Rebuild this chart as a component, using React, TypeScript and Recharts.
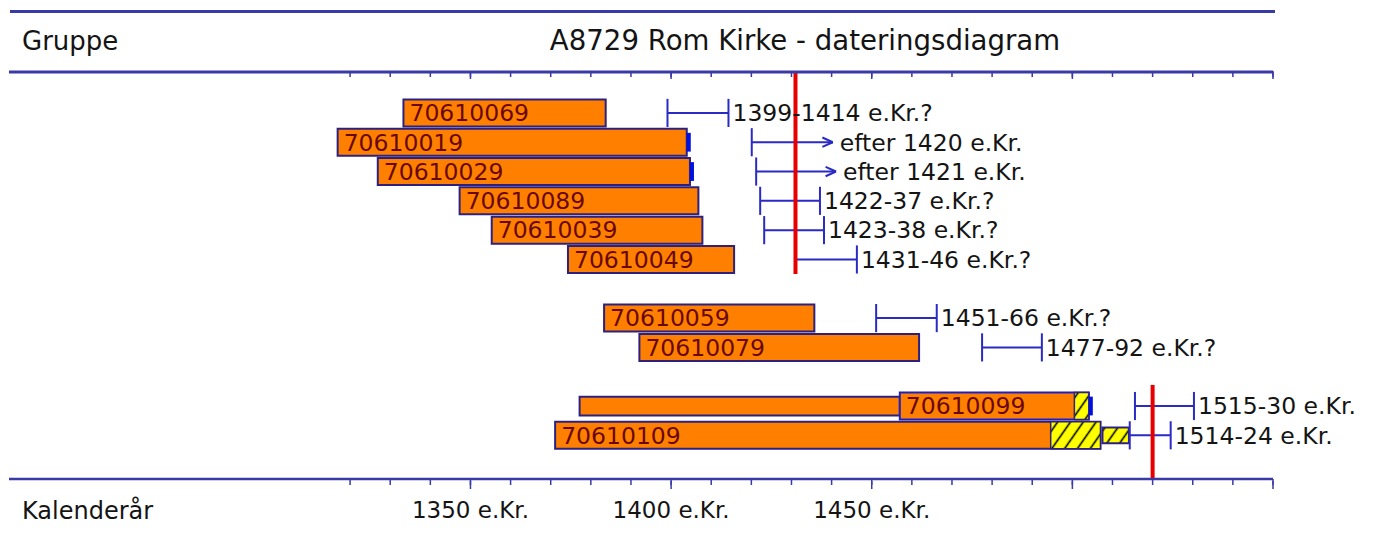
import React from 'react';
import { ComposedChart, XAxis, YAxis, ReferenceArea, ReferenceLine, ReferenceDot } from 'recharts';

// ---- Samples (tree-ring series) ----
const SAMPLE_IDS = ['70610069', '70610019', '70610029', '70610089', '70610039', '70610049', '70610059', '70610079', '70610099', '70610109'];
const SAMPLE_ROWS = [0, 1, 2, 3, 4, 5, 7, 8, 10, 11];
const SERIES_START = [1333.3, 1316.9, 1326.9, 1347.3, 1355.3, 1374.3, 1383.3, 1392.1, 1377.2, 1371.1];
const LABEL_BOX_START = [1333.3, 1316.9, 1326.9, 1347.3, 1355.3, 1374.3, 1383.3, 1392.1, 1457.0, 1371.1];
const HEARTWOOD_END = [1383.7, 1403.9, 1404.7, 1406.8, 1407.8, 1415.7, 1435.7, 1461.8, 1500.5, 1494.6];
const SAPWOOD_END: (number | null)[] = [null, null, null, null, null, null, null, null, 1504.1, 1507.0];
const WANEY_EDGE = [false, true, true, false, false, false, false, false, true, false];

// extra (estimated) sapwood block
const EXTRA_SAP_ROW = [11];
const EXTRA_SAP_FROM = [1507.5];
const EXTRA_SAP_TO = [1514.1];

// ---- Felling date intervals ----
const DATE_FROM = [1399.1, 1420.1, 1421.2, 1422.2, 1423.2, 1430.9, 1451.1, 1477.5, 1515.6, 1514.3];
const DATE_TO = [1414.3, 1440.3, 1441.1, 1437.1, 1438.1, 1446.3, 1466.2, 1492.4, 1530.3, 1524.5];
const DATE_OPEN = [false, true, true, false, false, false, false, false, false, false];
const DATE_TEXT = ['1399-1414 e.Kr.?', 'efter 1420 e.Kr.', 'efter 1421 e.Kr.', '1422-37 e.Kr.?', '1423-38 e.Kr.?', '1431-46 e.Kr.?', '1451-66 e.Kr.?', '1477-92 e.Kr.?', '1515-30 e.Kr.', '1514-24 e.Kr.'];

// ---- Groups ----
const GROUP_NAMES = ['Apsis + Kor', 'Kor', 'Altertavle'];
const GROUP_ROWS = [-0.2, 7.1, 10.05];

// ---- Red dating lines ----
const RED_YEAR = [1431, 1520];
const RED_FROM_ROW = [-1.43, 9.28];
const RED_TO_ROW = [5.5, 12.49];

// ---- Axis ----
const MINOR_TICKS = [1320, 1330, 1340, 1350, 1360, 1370, 1380, 1390, 1400, 1410, 1420, 1430, 1440, 1450, 1460, 1470, 1480, 1490, 1500, 1510, 1520, 1530, 1540, 1550];
const MAJOR_TICKS = [1350, 1400, 1450, 1500, 1550];
const LABEL_TICKS = [1350, 1400, 1450];
const X_DOMAIN: [number, number] = [1235, 1550];
const Y_DOMAIN: [number, number] = [-1.43, 12.49];

const CHART_DATA = SAMPLE_IDS.map((id, i) => ({ id, start: SERIES_START[i], row: SAMPLE_ROWS[i] }));

// ---- Styles ----
const W = 1365;
const H = 515;
const FONT = "'DejaVu Sans', sans-serif";
const ORANGE = '#ff8000';
const OUTLINE = '#2c2080';
const AXIS = '#3a3aa6';
const BRACKET = '#2a2ac4';
const RED = '#e80000';
const LABEL_RED = '#6a0800';
const TEXT = '#141414';
const HALF = 0.46;
const THIN_HALF = 0.32;
const TICK_HALF = 0.48;
const ARROW_LEN = 2.6;
const ARROW_HALF = 0.16;

const GroupTick = (props: any) => {
  const { x, y, payload } = props;
  const idx = GROUP_ROWS.indexOf(payload.value);
  return (
    <text x={x + 13} y={y} dy="0.36em" textAnchor="start" fontSize={23.5} fill={TEXT} fontFamily={FONT}>
      {GROUP_NAMES[idx]}
    </text>
  );
};

const EmptyTick = () => <g />;

export default function App() {
  const elements: React.ReactNode[] = [];

  SAMPLE_IDS.forEach((id, i) => {
    const row = SAMPLE_ROWS[i];
    const end = SAPWOOD_END[i] ?? HEARTWOOD_END[i];
    if (LABEL_BOX_START[i] > SERIES_START[i]) {
      elements.push(
        <ReferenceArea key={id + '-thin'} x1={SERIES_START[i]} x2={LABEL_BOX_START[i]} y1={row - THIN_HALF} y2={row + THIN_HALF}
          fill={ORANGE} fillOpacity={1} stroke={OUTLINE} strokeWidth={2} ifOverflow="visible" />
      );
    }
    elements.push(
      <ReferenceArea key={id} x1={LABEL_BOX_START[i]} x2={end} y1={row - HALF} y2={row + HALF}
        fill={ORANGE} fillOpacity={1} stroke={LABEL_BOX_START[i] > SERIES_START[i] ? '#2020c0' : OUTLINE} strokeWidth={2} ifOverflow="visible"
        label={{ value: id, position: 'insideLeft', offset: 6, fill: LABEL_RED, fontSize: 23.5, fontFamily: FONT }} />
    );
    if (SAPWOOD_END[i] != null) {
      elements.push(
        <ReferenceArea key={id + '-sap'} x1={HEARTWOOD_END[i]} x2={end} y1={row - HALF} y2={row + HALF}
          fill="url(#hatch)" fillOpacity={1} stroke={OUTLINE} strokeWidth={1.5} ifOverflow="visible" />
      );
    }
    if (WANEY_EDGE[i]) {
      elements.push(
        <ReferenceArea key={id + '-wk'} x1={end} x2={end + 1} y1={row - THIN_HALF} y2={row + THIN_HALF}
          fill="#0010e0" fillOpacity={1} ifOverflow="visible" />
      );
    }
  });

  EXTRA_SAP_ROW.forEach((row, i) => {
    elements.push(
      <ReferenceArea key={'extra' + i} x1={EXTRA_SAP_FROM[i]} x2={EXTRA_SAP_TO[i]} y1={row - 0.27} y2={row + 0.27}
        fill="url(#hatch)" fillOpacity={1} stroke={OUTLINE} strokeWidth={2} ifOverflow="visible" />
    );
  });

  DATE_TEXT.forEach((txt, i) => {
    const row = SAMPLE_ROWS[i];
    const a = DATE_FROM[i];
    const b = DATE_TO[i];
    const lp = { stroke: BRACKET, strokeWidth: 2, ifOverflow: 'visible' as const };
    elements.push(<ReferenceLine key={'h' + i} segment={[{ x: a, y: row }, { x: b, y: row }]} {...lp} />);
    elements.push(<ReferenceLine key={'l' + i} segment={[{ x: a, y: row - TICK_HALF }, { x: a, y: row + TICK_HALF }]} {...lp} />);
    if (DATE_OPEN[i]) {
      elements.push(<ReferenceLine key={'a1' + i} segment={[{ x: b - ARROW_LEN, y: row - ARROW_HALF }, { x: b, y: row }]} {...lp} />);
      elements.push(<ReferenceLine key={'a2' + i} segment={[{ x: b - ARROW_LEN, y: row + ARROW_HALF }, { x: b, y: row }]} {...lp} />);
    } else {
      elements.push(<ReferenceLine key={'r' + i} segment={[{ x: b, y: row - TICK_HALF }, { x: b, y: row + TICK_HALF }]} {...lp} />);
    }
    elements.push(
      <ReferenceDot key={'t' + i} x={b} y={row} r={0} fill="none" stroke="none" ifOverflow="visible"
        label={{ value: txt, position: 'right', offset: DATE_OPEN[i] ? 7 : 4, fill: TEXT, fontSize: 23.5, fontFamily: FONT }} />
    );
  });

  RED_YEAR.forEach((yr, i) => {
    elements.push(
      <ReferenceLine key={'red' + i} segment={[{ x: yr, y: RED_FROM_ROW[i] }, { x: yr, y: RED_TO_ROW[i] }]}
        stroke={RED} strokeWidth={4} ifOverflow="visible" />
    );
  });

  const axisCommon = {
    type: 'number' as const,
    domain: X_DOMAIN,
    allowDataOverflow: true,
    height: 1,
    interval: 0 as const,
  };

  return (
    <div style={{ position: 'relative', width: W, height: H, fontFamily: FONT, background: '#fff' }}>
      <svg width={0} height={0} style={{ position: 'absolute' }}>
        <defs>
          <pattern id="hatch" patternUnits="userSpaceOnUse" width={10.5} height={10.5} patternTransform="rotate(35)">
            <rect width={10.5} height={10.5} fill="#ffff00" />
            <line x1={5.25} y1={0} x2={5.25} y2={10.5} stroke="#000" strokeWidth={1.6} />
          </pattern>
        </defs>
      </svg>

      {/* header rule */}
      <div style={{ position: 'absolute', left: 2, top: 2, width: 1265, height: 3, background: AXIS }} />
      <div style={{ position: 'absolute', left: 14, top: 20, fontSize: 26, lineHeight: 1, color: TEXT, whiteSpace: 'nowrap' }}>Gruppe</div>
      <div style={{ position: 'absolute', left: 797, top: 19, fontSize: 27.6, lineHeight: 1, color: TEXT, whiteSpace: 'nowrap', transform: 'translateX(-50%)' }}>
        A8729 Rom Kirke - dateringsdiagram
      </div>
      <div style={{ position: 'absolute', left: 14, top: 491, fontSize: 24, lineHeight: 1, color: TEXT, whiteSpace: 'nowrap' }}>Kalenderår</div>

      <div style={{ position: 'absolute', left: 0, top: 0 }}>
        <ComposedChart width={W} height={H} data={CHART_DATA} margin={{ top: 63, right: 100, bottom: 41, left: 1 }}>
          <XAxis xAxisId={0} dataKey="start" {...axisCommon} orientation="bottom" ticks={MINOR_TICKS} tick={EmptyTick} tickSize={6}
            axisLine={{ stroke: AXIS, strokeWidth: 2.5 }} tickLine={{ stroke: AXIS, strokeWidth: 1.5 }} />
          <XAxis xAxisId="bMaj" dataKey="start" {...axisCommon} orientation="bottom" ticks={MAJOR_TICKS} tick={EmptyTick} tickSize={8}
            axisLine={false} tickLine={{ stroke: AXIS, strokeWidth: 1.5 }} />
          <XAxis xAxisId="bLab" dataKey="start" {...axisCommon} orientation="bottom" ticks={LABEL_TICKS} tickSize={0} tickMargin={22}
            axisLine={false} tickLine={false} tickFormatter={(v: number) => `${v} e.Kr.`}
            tick={{ fill: TEXT, fontSize: 23, fontFamily: FONT }} />
          <XAxis xAxisId="tMin" dataKey="start" {...axisCommon} orientation="top" mirror ticks={MINOR_TICKS} tick={EmptyTick} tickSize={5}
            axisLine={{ stroke: AXIS, strokeWidth: 3 }} tickLine={{ stroke: AXIS, strokeWidth: 1.5 }} />
          <XAxis xAxisId="tMaj" dataKey="start" {...axisCommon} orientation="top" mirror ticks={MAJOR_TICKS} tick={EmptyTick} tickSize={8}
            axisLine={false} tickLine={{ stroke: AXIS, strokeWidth: 1.5 }} />
          <YAxis yAxisId={0} type="number" dataKey="row" domain={Y_DOMAIN} allowDataOverflow reversed width={0}
            ticks={GROUP_ROWS} interval={0} axisLine={false} tickLine={false} tickSize={0} tickMargin={0} tick={GroupTick} />
          {elements}
        </ComposedChart>
      </div>
    </div>
  );
}
